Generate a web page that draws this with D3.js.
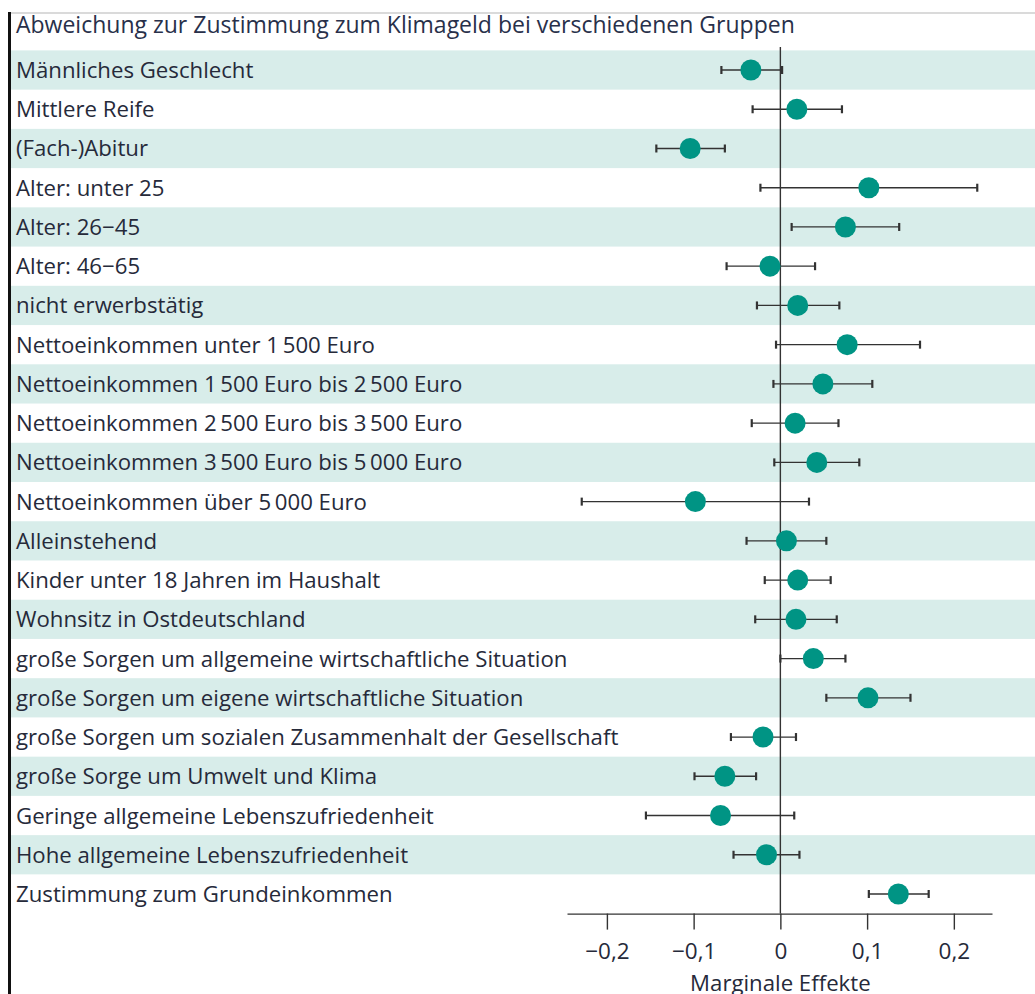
<!DOCTYPE html>
<html>
<head>
<meta charset="utf-8">
<script src="https://cdn.jsdelivr.net/npm/d3@7"></script>
<style>
  body { margin: 0; background: #fff; }
  svg { display: block; font-family: "Open Sans", sans-serif; }
  .label { font-size: 22.2px; fill: #262a3a; }
  .title { font-size: 23px; fill: #28304a; }
  .axis text { font-size: 22.5px; fill: #262a3a; font-family: "Open Sans", sans-serif; }
  .axis path, .axis line { stroke: #333; stroke-width: 1.4; }
</style>
</head>
<body>
<svg class="myChart" width="1035" height="994"></svg>
<script>
const title = "Abweichung zur Zustimmung zum Klimageld bei verschiedenen Gruppen";

const categories = [
  "Männliches Geschlecht",
  "Mittlere Reife",
  "(Fach-)Abitur",
  "Alter: unter 25",
  "Alter: 26\u221245",
  "Alter: 46\u221265",
  "nicht erwerbstätig",
  "Nettoeinkommen unter 1\u2009500 Euro",
  "Nettoeinkommen 1\u2009500 Euro bis 2\u2009500 Euro",
  "Nettoeinkommen 2\u2009500 Euro bis 3\u2009500 Euro",
  "Nettoeinkommen 3\u2009500 Euro bis 5\u2009000 Euro",
  "Nettoeinkommen über 5\u2009000 Euro",
  "Alleinstehend",
  "Kinder unter 18 Jahren im Haushalt",
  "Wohnsitz in Ostdeutschland",
  "große Sorgen um allgemeine wirtschaftliche Situation",
  "große Sorgen um eigene wirtschaftliche Situation",
  "große Sorgen um sozialen Zusammenhalt der Gesellschaft",
  "große Sorge um Umwelt und Klima",
  "Geringe allgemeine Lebenszufriedenheit",
  "Hohe allgemeine Lebenszufriedenheit",
  "Zustimmung zum Grundeinkommen"
];

const estimate = [-0.034, 0.019, -0.104, 0.102, 0.075, -0.012, 0.020, 0.077, 0.049, 0.017, 0.042, -0.098,
  0.007, 0.020, 0.018, 0.038, 0.101, -0.020, -0.064, -0.069, -0.016, 0.136];
const lower = [-0.068, -0.032, -0.143, -0.023, 0.013, -0.062, -0.027, -0.005, -0.008, -0.033, -0.007, -0.229,
  -0.039, -0.018, -0.029, 0.000, 0.053, -0.057, -0.099, -0.155, -0.054, 0.102];
const upper = [0.002, 0.071, -0.064, 0.227, 0.137, 0.040, 0.068, 0.161, 0.106, 0.067, 0.091, 0.033,
  0.053, 0.058, 0.065, 0.075, 0.150, 0.018, -0.028, 0.016, 0.022, 0.171];

const tickValues = [-0.2, -0.1, 0, 0.1, 0.2];
const xTitle = "Marginale Effekte";

const data = categories.map((c, i) => ({cat: c, est: estimate[i], lo: lower[i], hi: upper[i]}));

const svg = d3.select("svg.myChart");
const W = 1035;

d3.formatDefaultLocale({decimal: ",", thousands: ".", grouping: [3], currency: ["", " €"], minus: "\u2212"});

const xScale = d3.scaleLinear().domain([-0.246, 0.244]).range([567, 992]);
const yScale = d3.scaleBand().domain(categories).range([50.4, 913.6]).padding(0);

// frame lines
svg.append("line").attr("x1", 10).attr("x2", W).attr("y1", 13).attr("y2", 13)
  .attr("stroke", "#b5b5b5").attr("stroke-width", 1);
svg.append("rect").attr("x", 8).attr("y", 12).attr("width", 3).attr("height", 994 - 12).attr("fill", "#111");

// title
svg.append("text").attr("class", "title").attr("x", 16).attr("y", 33).text(title);

// alternating bands
svg.selectAll(".band").data(data.filter((d, i) => i % 2 === 0))
  .enter().append("rect").attr("class", "band")
  .attr("x", 11).attr("width", W - 11)
  .attr("y", d => yScale(d.cat)).attr("height", yScale.bandwidth())
  .attr("fill", "#d8edea");

// labels
svg.selectAll(".label").data(data)
  .enter().append("text").attr("class", "label")
  .attr("x", 16)
  .attr("y", d => yScale(d.cat) + yScale.bandwidth() / 2 + 8)
  .text(d => d.cat);

// zero line
svg.append("line").attr("x1", xScale(0)).attr("x2", xScale(0))
  .attr("y1", 47).attr("y2", 913.6).attr("stroke", "#333").attr("stroke-width", 1.4);

// axis
const xAxis = d3.axisBottom(xScale).tickValues(tickValues).tickSize(16).tickSizeOuter(0).tickPadding(13)
  .tickFormat(d => d === 0 ? "0" : d3.format(".1f")(d));
const ax = svg.append("g").attr("class", "axis")
  .attr("transform", `translate(0,${yScale.range()[1]})`).call(xAxis);
ax.selectAll(".tick line").attr("stroke", "#333");

svg.append("text").attr("x", xScale(0)).attr("y", 991).attr("text-anchor", "middle")
  .attr("class", "label").text(xTitle);

// error bars
const cy = d => yScale(d.cat) + yScale.bandwidth() / 2;
const eb = svg.selectAll(".eb").data(data).enter().append("g").attr("class", "eb");
eb.append("line").attr("x1", d => xScale(d.lo)).attr("x2", d => xScale(d.hi))
  .attr("y1", cy).attr("y2", cy).attr("stroke", "#333").attr("stroke-width", 1.3);
eb.append("line").attr("x1", d => xScale(d.lo)).attr("x2", d => xScale(d.lo))
  .attr("y1", d => cy(d) - 4).attr("y2", d => cy(d) + 4).attr("stroke", "#333").attr("stroke-width", 2.2);
eb.append("line").attr("x1", d => xScale(d.hi)).attr("x2", d => xScale(d.hi))
  .attr("y1", d => cy(d) - 4).attr("y2", d => cy(d) + 4).attr("stroke", "#333").attr("stroke-width", 2.2);

// points
svg.selectAll(".pt").data(data).enter().append("circle").attr("class", "pt")
  .attr("cx", d => xScale(d.est)).attr("cy", cy).attr("r", 10.5).attr("fill", "#009484");
</script>
</body>
</html>
